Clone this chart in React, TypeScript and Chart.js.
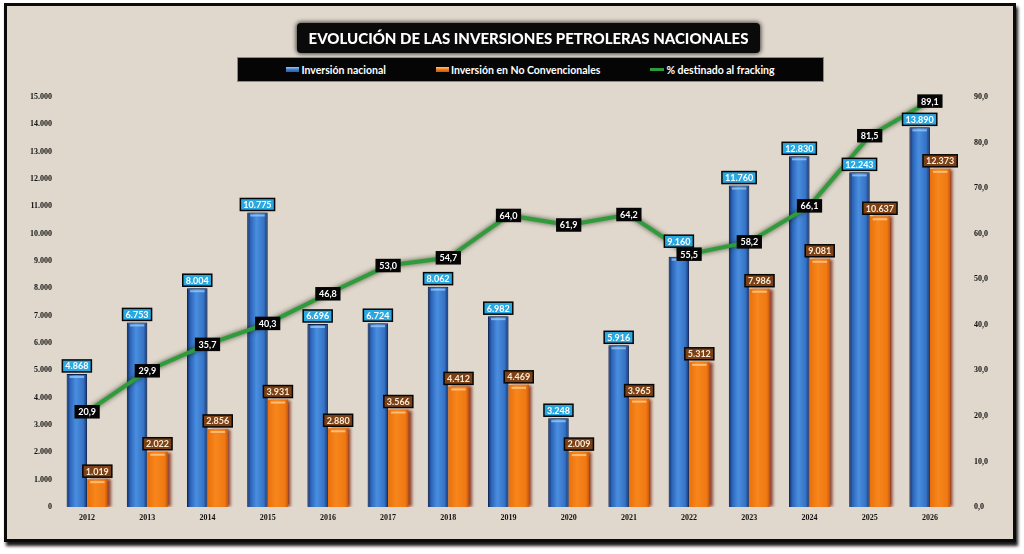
import { useEffect, useRef } from 'react';
import { Chart, registerables } from 'chart.js';

Chart.register(...registerables);

const years = ['2012', '2013', '2014', '2015', '2016', '2017', '2018', '2019', '2020', '2021', '2022', '2023', '2024', '2025', '2026'];
const inversionNacional = [4868, 6753, 8004, 10775, 6696, 6724, 8062, 6982, 3248, 5916, 9160, 11760, 12830, 12243, 13890];
const inversionNoConv = [1019, 2022, 2856, 3931, 2880, 3566, 4412, 4469, 2009, 3965, 5312, 7986, 9081, 10637, 12373];
const pctFracking = [20.9, 29.9, 35.7, 40.3, 46.8, 53.0, 54.7, 64.0, 61.9, 64.2, 55.5, 58.2, 66.1, 81.5, 89.1];

const titleText = 'EVOLUCIÓN DE LAS INVERSIONES PETROLERAS NACIONALES';
const legendLabels = ['Inversión nacional', 'Inversión en No Convencionales', '% destinado al fracking'];

const fmtMiles = (v: number) => String(Math.round(v)).replace(/\B(?=(\d{3})+(?!\d))/g, '.');
const fmtPct = (v: number) => v.toFixed(1).replace('.', ',');

const CAT_PCT = 0.68;
const BOX_H = 12;

function barGradient(ctx: any, which: number) {
  const chart = ctx.chart;
  const xs = chart.scales?.x;
  if (!xs || !chart.chartArea || typeof ctx.dataIndex !== 'number') return which === 0 ? '#3a7bcc' : '#f27c14';
  const cx = xs.getPixelForValue(ctx.dataIndex);
  const cw = (xs.right - xs.left) / years.length;
  const bw = (cw * CAT_PCT) / 2;
  const left = which === 0 ? cx - bw : cx;
  const right = left + bw;
  const g = chart.ctx.createLinearGradient(left, 0, right, 0);
  if (which === 0) {
    g.addColorStop(0, '#0c2a66');
    g.addColorStop(0.16, '#2b64b8');
    g.addColorStop(0.45, '#4a8edf');
    g.addColorStop(0.82, '#3572c4');
    g.addColorStop(1, '#112f6c');
  } else {
    g.addColorStop(0, '#e8700c');
    g.addColorStop(0.4, '#f7861c');
    g.addColorStop(0.85, '#ef7812');
    g.addColorStop(1, '#c8560a');
  }
  return g;
}

const shadowPlugin = {
  id: 'shadowPlugin',
  beforeDatasetDraw(chart: any, args: any) {
    const ctx = chart.ctx;
    ctx.save();
    if (args.index === 2) {
      ctx.shadowColor = 'rgba(15,40,10,0.75)';
      ctx.shadowBlur = 5;
    } else if (args.index === 1) {
      ctx.shadowColor = 'rgba(120,30,10,0.8)';
      ctx.shadowOffsetX = 3;
      ctx.shadowBlur = 3;
    } else {
      ctx.shadowColor = 'rgba(10,20,60,0.4)';
      ctx.shadowBlur = 3;
    }
  },
  afterDatasetDraw(chart: any) {
    chart.ctx.restore();
  },
};

function boxWidth(ctx: CanvasRenderingContext2D, text: string) {
  ctx.font = 'bold 9px Lato';
  return ctx.measureText(text).width + 6;
}

function drawBox(ctx: CanvasRenderingContext2D, text: string, cx: number, cy: number, fill: string, color: string) {
  const w = boxWidth(ctx, text);
  const h = BOX_H;
  ctx.fillStyle = fill;
  ctx.fillRect(cx - w / 2, cy - h / 2, w, h);
  ctx.lineWidth = 1.5;
  ctx.strokeStyle = '#050505';
  ctx.strokeRect(cx - w / 2, cy - h / 2, w, h);
  ctx.fillStyle = color;
  ctx.textAlign = 'center';
  ctx.textBaseline = 'middle';
  ctx.fillText(text, cx, cy + 0.5);
}

const labelPlugin = {
  id: 'labelPlugin',
  afterDatasetsDraw(chart: any) {
    const ctx: CanvasRenderingContext2D = chart.ctx;
    ctx.save();
    [0, 1].forEach((di) => {
      const meta = chart.getDatasetMeta(di);
      meta.data.forEach((el: any) => {
        const half = el.width / 2;
        ctx.fillStyle = di === 0 ? 'rgba(150,200,245,0.8)' : 'rgba(255,195,130,0.9)';
        ctx.fillRect(el.x - half + 3, el.y + 2, el.width - 6, 2);
      });
    });
    const m0 = chart.getDatasetMeta(0);
    const m1 = chart.getDatasetMeta(1);
    const m2 = chart.getDatasetMeta(2);
    const lineBoxes = m2.data.map((el: any, i: number) => ({
      x: el.x,
      y: el.y,
      w: boxWidth(ctx, fmtPct(pctFracking[i])),
    }));
    m2.data.forEach((el: any, i: number) => {
      drawBox(ctx, fmtPct(pctFracking[i]), el.x, el.y, '#050505', '#ffffff');
    });
    const place = (el: any, text: string) => {
      const w = boxWidth(ctx, text);
      let cy = el.y - 8;
      lineBoxes.forEach((lb: any) => {
        if (Math.abs(lb.x - el.x) < (lb.w + w) / 2 && Math.abs(lb.y - cy) < BOX_H) {
          cy = lb.y - BOX_H - 1;
        }
      });
      return cy;
    };
    m0.data.forEach((el: any, i: number) => {
      const t = fmtMiles(inversionNacional[i]);
      drawBox(ctx, t, el.x, place(el, t), '#2aa8e2', '#ffffff');
    });
    m1.data.forEach((el: any, i: number) => {
      const t = fmtMiles(inversionNoConv[i]);
      drawBox(ctx, t, el.x, place(el, t), '#7c4016', '#fbead2');
    });
    ctx.restore();
  },
};

export default function App() {
  const canvasRef = useRef<HTMLCanvasElement | null>(null);

  useEffect(() => {
    if (!canvasRef.current) return;
    const tickFont = { family: 'Liberation Serif', size: 8, weight: 'bold' as const };
    const chart = new Chart(canvasRef.current, {
      type: 'bar',
      data: {
        labels: years,
        datasets: [
          {
            type: 'bar',
            label: legendLabels[0],
            data: inversionNacional,
            yAxisID: 'y',
            backgroundColor: (c: any) => barGradient(c, 0),
            borderColor: '#0a2256',
            borderWidth: 1,
            categoryPercentage: CAT_PCT,
            barPercentage: 1,
            order: 1,
          },
          {
            type: 'bar',
            label: legendLabels[1],
            data: inversionNoConv,
            yAxisID: 'y',
            backgroundColor: (c: any) => barGradient(c, 1),
            borderWidth: 0,
            categoryPercentage: CAT_PCT,
            barPercentage: 1,
            order: 2,
          },
          {
            type: 'line',
            label: legendLabels[2],
            data: pctFracking,
            yAxisID: 'y1',
            borderColor: '#2f9b3b',
            borderWidth: 4,
            pointRadius: 0,
            tension: 0,
            order: 0,
          },
        ],
      },
      options: {
        animation: false,
        responsive: true,
        maintainAspectRatio: false,
        layout: { padding: { top: 97, bottom: 22, left: 0, right: 24 } },
        plugins: {
          legend: { display: false },
          title: { display: false },
          tooltip: { enabled: false },
        },
        scales: {
          x: {
            grid: { display: false, drawTicks: false },
            border: { display: false },
            ticks: { font: tickFont, color: '#111', padding: 6 },
            afterFit: (s: any) => {
              s.height = 25;
            },
          },
          y: {
            position: 'left',
            min: 0,
            max: 15000,
            grid: { display: false, drawTicks: false },
            border: { display: false },
            ticks: {
              stepSize: 1000,
              font: tickFont,
              color: '#111',
              padding: 5,
              callback: (v: any) => fmtMiles(Number(v)),
            },
            afterFit: (s: any) => {
              s.width = 57;
            },
          },
          y1: {
            position: 'right',
            min: 0,
            max: 90,
            grid: { display: false, drawTicks: false },
            border: { display: false },
            ticks: {
              stepSize: 10,
              font: tickFont,
              color: '#111',
              padding: 14,
              callback: (v: any) => fmtPct(Number(v)),
            },
            afterFit: (s: any) => {
              s.width = 40;
            },
          },
        },
      },
      plugins: [shadowPlugin, labelPlugin],
    });
    return () => chart.destroy();
  }, []);

  const swatch = (kind: number) => {
    if (kind === 2) {
      return <span style={{ display: 'inline-block', width: 14, height: 3, background: '#2f9b3b', marginRight: 2 }} />;
    }
    const bg = kind === 0
      ? 'linear-gradient(#9cc8f2, #3d7fd0 50%, #2a5fae)'
      : 'linear-gradient(#ffc27a, #f07c14 50%, #c85a0c)';
    return <span style={{ display: 'inline-block', width: 13, height: 5, background: bg, marginRight: 2 }} />;
  };

  return (
    <div style={{ position: 'fixed', left: 0, top: 0, width: 1024, height: 554, background: '#ffffff', overflow: 'hidden' }}>
      <div
        style={{
          position: 'absolute',
          left: 4,
          top: 3,
          width: 1012,
          height: 539,
          boxSizing: 'border-box',
          border: '3px solid #0a0a0a',
          background: '#e0d8cc',
          boxShadow: '2px 4px 3px rgba(0,0,0,0.9)',
        }}
      />
      <div style={{ position: 'absolute', left: 0, top: 0, width: 1024, height: 554 }}>
        <canvas ref={canvasRef} />
      </div>
      <div
        style={{
          position: 'absolute',
          left: 297,
          top: 23,
          width: 463,
          height: 30,
          background: '#0a0a0a',
          borderRadius: 4,
          boxShadow: '0 0 4px 1px rgba(0,0,0,0.7)',
          color: '#ffffff',
          fontFamily: 'Lato',
          fontWeight: 900,
          fontSize: 15,
          display: 'flex',
          alignItems: 'center',
          justifyContent: 'center',
          whiteSpace: 'nowrap',
        }}
      >
        {titleText}
      </div>
      <div
        style={{
          position: 'absolute',
          left: 237,
          top: 57,
          width: 587,
          height: 25,
          boxSizing: 'border-box',
          background: '#050505',
          border: '1px solid #8a8a8a',
          color: '#ffffff',
          fontFamily: 'Lato',
          fontWeight: 700,
          fontSize: 10.5,
          display: 'flex',
          alignItems: 'center',
          justifyContent: 'center',
          gap: 50,
          whiteSpace: 'nowrap',
        }}
      >
        {legendLabels.map((t, i) => (
          <span key={t} style={{ display: 'inline-flex', alignItems: 'center' }}>
            {swatch(i)}
            {t}
          </span>
        ))}
      </div>
    </div>
  );
}
